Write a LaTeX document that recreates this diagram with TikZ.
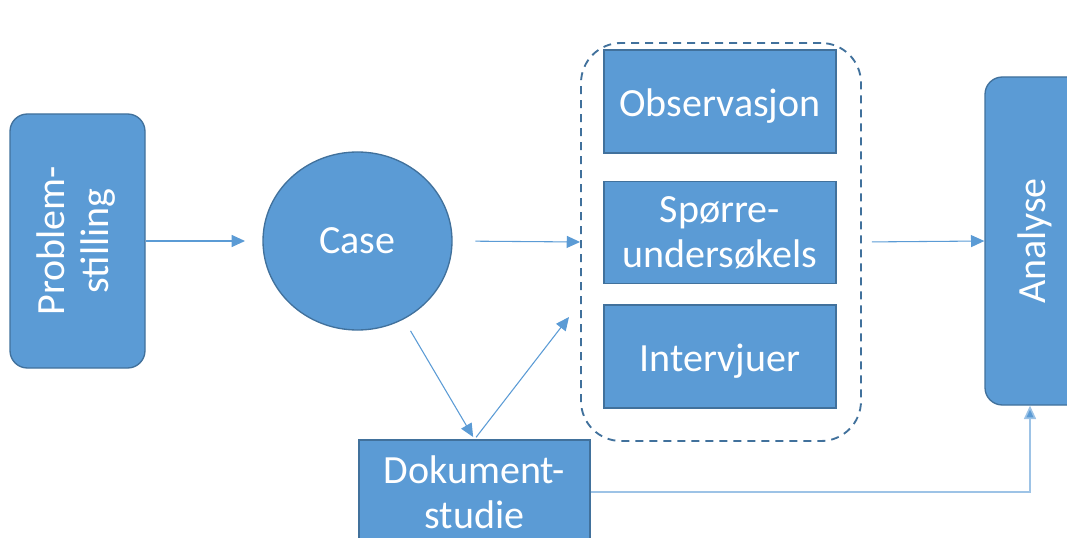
\documentclass[tikz,border=0pt]{standalone}
\usepackage{fontspec}
\setmainfont{Carlito}
\usetikzlibrary{arrows.meta,calc,shapes.geometric}
\definecolor{boxfill}{HTML}{5B9BD5}
\definecolor{boxline}{HTML}{41719C}
\definecolor{flowcol}{HTML}{5B9BD5}
\definecolor{softflow}{HTML}{9DC3E6}
\tikzset{
  blockbox/.style={draw=boxline, line width=1pt, fill=boxfill, text=white,
    font=\fontsize{30}{34}\selectfont, align=center, inner sep=0pt},
  methodbox/.style={blockbox, minimum width={232*0.75pt}, minimum height={103*0.75pt}},
  oneline/.style={text height=27pt},
  roundbox/.style={blockbox, rounded corners=13pt},
  flow/.style={draw=flowcol, line width=0.8pt, -{Triangle[length=10pt,width=9pt]}},
  softarrow/.style={draw=softflow, line width=1.2pt, -{Triangle[length=10pt,width=9pt,fill=flowcol]}},
  groupbox/.style={draw=boxline, line width=1.4pt, dash pattern=on 6pt off 4.5pt,
    rounded corners=30pt, inner sep=0pt}
}
\begin{document}
\begin{tikzpicture}[x=0.75pt,y=-0.75pt]
\useasboundingbox (0,0) rectangle (1067,538);
\clip (0,0) rectangle (1067,538);

% main blocks
\node[roundbox, minimum width={135*0.75pt}, minimum height={254*0.75pt}] (problem) at (77.5,241)
  {\rotatebox{90}{\begin{tabular}{@{}c@{}}Problem-\\[-1pt]stilling\end{tabular}}};
\node[blockbox, ellipse, minimum width={189*0.75pt}, minimum height={178*0.75pt}] (case) at (357.5,241) {Case};

% data collection methods
\node[groupbox, minimum width={280*0.75pt}, minimum height={398*0.75pt}] (methods) at (721,242) {};
\node[methodbox, oneline] (obs) at (720,101.5) {Observasjon};
\node[methodbox, minimum height={102*0.75pt}] (survey) at (720,232.5) {Spørre-\\undersøkels};
\node[methodbox, oneline] (interview) at (720,356.5) {Intervjuer};

\node[roundbox, minimum width={100*0.75pt}, minimum height={328*0.75pt}] (analyse) at (1035,241)
  {\rotatebox{90}{Analyse}};
\node[blockbox, minimum width={231*0.75pt}, minimum height={104*0.75pt}] (dok) at (474.5,492)
  {Dokument-\\studie};

\coordinate (methodsin) at (569,317);

% connectors
\draw[flow, shorten >=13pt] (problem.east) -- (case.west);
\draw[flow, shorten <=17pt] (case.east) -- (methods.west);
\draw[flow, shorten <=7.5pt] (methods.east) -- (analyse.west);
\draw[flow, shorten <=10pt, shorten >=2pt] (case) -- (dok.north);
\draw[flow, shorten <=2pt] (dok.north) -- (methodsin);
\draw[softarrow] (dok.east) -| ([xshift=-3.75pt]analyse.south);
\end{tikzpicture}
\end{document}
